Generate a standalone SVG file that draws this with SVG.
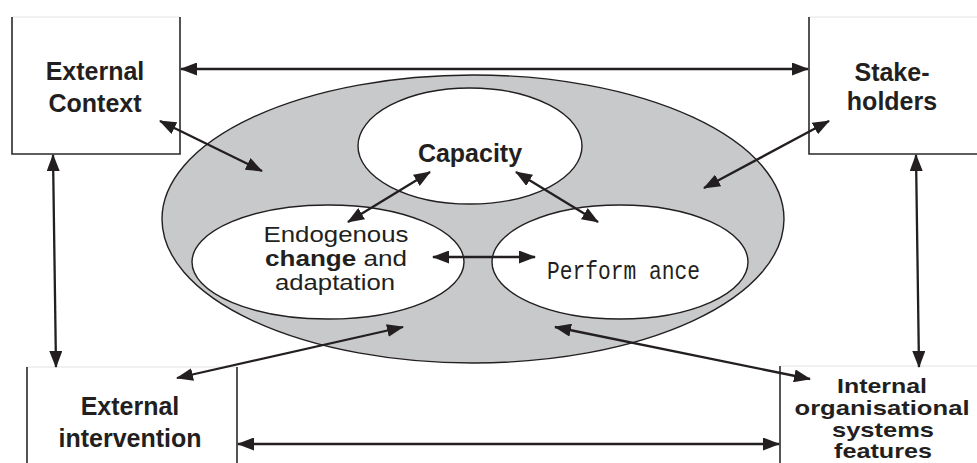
<svg xmlns="http://www.w3.org/2000/svg" width="977" height="463" viewBox="0 0 977 463">
<style>
.box{fill:#fff;stroke:none}
.edge{stroke:#2a2a2a;stroke-width:1.6;fill:none}
.faint{stroke:#e2e2e2;stroke-width:1;fill:none}
.ell{stroke:#231f20;stroke-width:1.4}
.t{font-family:"Liberation Sans",Arial,sans-serif;font-size:25px;fill:#231f20;text-anchor:middle}
.b{font-weight:bold}
.s{font-size:21px}
.m{font-size:22px}
.arr{stroke:#231f20;stroke-width:2.3;fill:none;marker-start:url(#ah);marker-end:url(#ah)}
</style>
<defs>
<marker id="ah" viewBox="0 0 17 13" refX="16" refY="6.5" markerWidth="17" markerHeight="13" markerUnits="userSpaceOnUse" orient="auto-start-reverse">
<path d="M0,0 L17,6.5 L0,13 z" fill="#231f20"/>
</marker>
</defs>
<rect width="977" height="463" fill="#fff"/>

<g id="core">
<ellipse cx="473" cy="219" rx="311" ry="144" fill="#c8c9cb" class="ell"/>
</g>
<g id="capacity">
<ellipse cx="470" cy="146" rx="112" ry="58" fill="#fff" class="ell"/>
<text class="t b" x="470" y="162">Capacity</text>
</g>
<g id="endogenous">
<ellipse cx="328" cy="262" rx="136" ry="57" fill="#fff" class="ell"/>
<text class="t m" x="336" y="242" textLength="145" lengthAdjust="spacingAndGlyphs">Endogenous</text>
<text class="t m" x="336" y="266" textLength="142" lengthAdjust="spacingAndGlyphs"><tspan class="b">change</tspan> and</text>
<text class="t m" x="335" y="290" textLength="120" lengthAdjust="spacingAndGlyphs">adaptation</text>
</g>
<g id="performance">
<ellipse cx="620" cy="262" rx="128" ry="57" fill="#fff" class="ell"/>
<text x="547" y="279" font-family="'Liberation Mono','Courier New',monospace" font-size="25" textLength="153" lengthAdjust="spacingAndGlyphs" fill="#231f20">Perform ance</text>
</g>

<g id="external-context">
<rect class="box" x="12" y="17" width="168" height="137"/>
<line class="faint" x1="12" y1="17" x2="180" y2="17"/>
<path class="edge" d="M12,17 V154 H180 V17"/>
<text class="t b" x="95" y="80">External</text>
<text class="t b" x="95" y="112">Context</text>
</g>
<g id="stakeholders">
<rect class="box" x="809" y="17" width="170" height="137"/>
<line class="faint" x1="809" y1="17" x2="977" y2="17"/>
<path class="edge" d="M809,17 V154 H979"/>
<text class="t b" x="892" y="81">Stake-</text>
<text class="t b" x="892" y="110">holders</text>
</g>
<g id="external-intervention">
<line class="faint" x1="27" y1="367" x2="237" y2="367"/>
<path class="edge" d="M27,367 V465 M237,367 V465"/>
<text class="t b" x="130" y="415">External</text>
<text class="t b" x="130" y="447">intervention</text>
</g>
<g id="internal-features">
<line class="faint" x1="780" y1="366" x2="977" y2="366"/>
<path class="edge" d="M780,366 V465"/>
<text class="t b s" x="882" y="393" textLength="90" lengthAdjust="spacingAndGlyphs">Internal</text>
<text class="t b s" x="882" y="415" textLength="175" lengthAdjust="spacingAndGlyphs">organisational</text>
<text class="t b s" x="883" y="437" textLength="102" lengthAdjust="spacingAndGlyphs">systems</text>
<text class="t b s" x="883" y="458" textLength="98" lengthAdjust="spacingAndGlyphs">features</text>
</g>

<g id="connectors">
<line class="arr" x1="181" y1="69" x2="808" y2="69"/>
<line class="arr" x1="238" y1="444" x2="779" y2="444"/>
<line class="arr" x1="53" y1="155" x2="56" y2="367"/>
<line class="arr" x1="916" y1="155" x2="919" y2="367"/>
<line class="arr" x1="160" y1="121" x2="262" y2="171"/>
<line class="arr" x1="829" y1="121" x2="704" y2="188"/>
<line class="arr" x1="177" y1="378" x2="403" y2="327"/>
<line class="arr" x1="810" y1="379" x2="555" y2="327"/>
<line class="arr" x1="430" y1="172" x2="348" y2="222"/>
<line class="arr" x1="516" y1="172" x2="598" y2="222"/>
<line class="arr" x1="433" y1="257" x2="535" y2="257"/>
</g>
</svg>
